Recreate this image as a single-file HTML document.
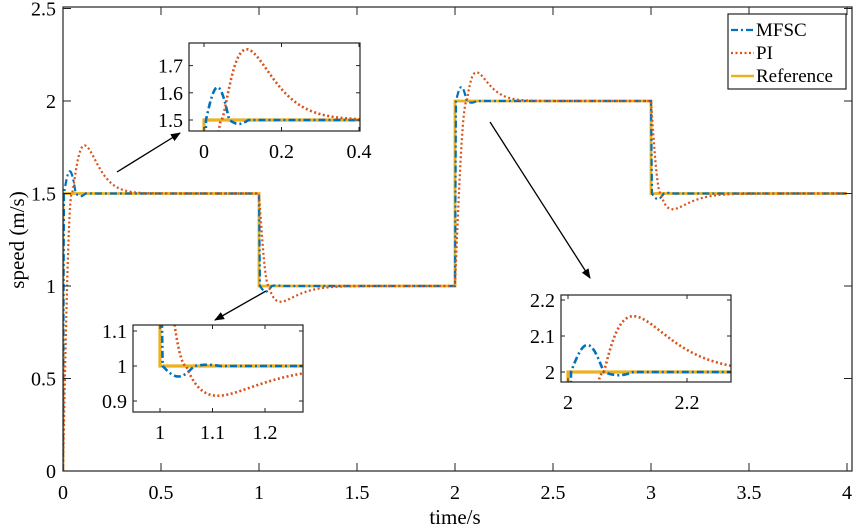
<!DOCTYPE html>
<html><head><meta charset="utf-8"><style>
html,body{margin:0;padding:0;background:#fff;width:858px;height:531px;overflow:hidden;}
svg{display:block;font-family:"Liberation Serif",serif;}
</style></head><body>
<svg id="s" width="858" height="531" xmlns="http://www.w3.org/2000/svg"></svg>
<script>
const S=document.getElementById('s');
let h='';
const B='#0072BD',O='#D95319',Y='#EDB120';
const steps=[
 {t0:0,y0:0,y1:1.5,A:0.12,T:0.06,tr:0.045,tp:0.065,P:0.26,dec:1.6},
 {t0:1,y0:1.5,y1:1,A:-0.03,T:0.06,tr:0.05,tp:0.06,P:-0.085,dec:1.0},
 {t0:2,y0:1,y1:2,A:0.075,T:0.055,tr:0.06,tp:0.05,P:0.155,dec:1.2},
 {t0:3,y0:2,y1:1.5,A:-0.03,T:0.06,tr:0.05,tp:0.06,P:-0.085,dec:1.0}];
function st(t){let s=steps[0];for(const q of steps) if(t>=q.t0) s=q;return s;}
function mf(t){const q=st(t),s=t-q.t0,d=q.y1-q.y0,ta=0.005;
 if(s<ta) return q.y0+d*s/ta;
 const u=s-ta; if(u<q.T) return q.y1+q.A*Math.sin(Math.PI*u/q.T);
 const v=u-q.T; if(v<0.05) return q.y1-0.12*q.A*Math.sin(Math.PI*v/0.05);
 return q.y1;}
function pi(t){const q=st(t),s=t-q.t0,d=q.y1-q.y0;
 if(s<q.tr) return q.y0+d*Math.sin(Math.PI/2*s/q.tr);
 const u=(s-q.tr)/q.tp; return q.y1+q.P*Math.pow(u*Math.exp(1-u),q.dec);}
function rf(t){return st(t).y1;}
function path(f,X,Yf,a,b,n){let p='';for(let i=0;i<=n;i++){const t=a+(b-a)*i/n;p+=(i?'L':'M')+X(t).toFixed(2)+','+Yf(f(t)).toFixed(2);}return p;}
function refPath(X,Yf,a,b){let p='';let pts=[];pts.push([a,rf(a)]);for(const q of steps){if(q.t0>a&&q.t0<b){pts.push([q.t0,q.y0]);pts.push([q.t0,q.y1]);}}pts.push([b,rf(b)]);
 if(a===0){pts[0]=[0,0];pts.splice(1,0,[0,1.5]);}
 pts.forEach((pp,i)=>{p+=(i?'L':'M')+X(pp[0]).toFixed(2)+','+Yf(pp[1]).toFixed(2);});return p;}
function series(X,Yf,a,b,n,w,clipId){
 const c=clipId?` clip-path="url(#${clipId})"`:'';
 let r='';
 r+=`<path d="${refPath(X,Yf,a,b)}" fill="none" stroke="${Y}" stroke-width="${w+0.6}"${c}/>`;
 r+=`<path d="${path(mf,X,Yf,a,b,n)}" fill="none" stroke="${B}" stroke-width="${w}" stroke-dasharray="7,3,2,3"${c}/>`;
 r+=`<path d="${path(pi,X,Yf,a,b,n)}" fill="none" stroke="${O}" stroke-width="${w}" stroke-dasharray="2,2.5"${c}/>`;
 return r;}
const X=t=>63+196*t, Yv=v=>471-185*v;
h+=`<defs><clipPath id="cm"><rect x="63" y="7" width="789" height="464"/></clipPath>
<clipPath id="c1"><rect x="189" y="43" width="171" height="88"/></clipPath>
<clipPath id="c2"><rect x="133" y="325" width="170" height="87"/></clipPath>
<clipPath id="c3"><rect x="561" y="295" width="170" height="87"/></clipPath>
<marker id="ar" markerWidth="10" markerHeight="8" refX="9" refY="4" orient="auto" markerUnits="userSpaceOnUse"><path d="M0,0L10,4L0,8z" fill="#000"/></marker></defs>`;
h+=series(X,Yv,0,4,2400,2.2,'cm');
h+=`<rect x="63" y="7" width="789" height="464" fill="none" stroke="#222" stroke-width="1.2"/>`;
for(let i=0;i<=8;i++){const x=X(i*0.5);h+=`<line x1="${x}" y1="471" x2="${x}" y2="463" stroke="#222"/><line x1="${x}" y1="7" x2="${x}" y2="15" stroke="#222"/>`;
 h+=`<text x="${x}" y="499" font-size="20" text-anchor="middle">${i*0.5}</text>`;}
for(let i=0;i<=5;i++){const y=Yv(i*0.5);h+=`<line x1="63" y1="${y}" x2="71" y2="${y}" stroke="#222"/><line x1="852" y1="${y}" x2="844" y2="${y}" stroke="#222"/>`;
 h+=`<text x="56" y="${y+7}" font-size="20" text-anchor="end">${i*0.5}</text>`;}
h+=`<text x="455" y="524" font-size="21" text-anchor="middle">time/s</text>`;
h+=`<text transform="translate(24,240) rotate(-90)" font-size="21" text-anchor="middle">speed (m/s)</text>`;
h+=`<line x1="117" y1="172" x2="180" y2="133" stroke="#000" stroke-width="1.3" marker-end="url(#ar)"/>`;
h+=`<line x1="266" y1="291" x2="215" y2="320" stroke="#000" stroke-width="1.3" marker-end="url(#ar)"/>`;
h+=`<line x1="490" y1="122" x2="590" y2="278" stroke="#000" stroke-width="1.3" marker-end="url(#ar)"/>`;
function inset(bx,by,bw,bh,clip,a,b,X,Yf,xt,xl,yt,yl){
 let r=`<rect x="${bx}" y="${by}" width="${bw}" height="${bh}" fill="#fff"/>`;
 r+=series(X,Yf,a,b,800,2.6,clip);
 r+=`<rect x="${bx}" y="${by}" width="${bw}" height="${bh}" fill="none" stroke="#222" stroke-width="1.2"/>`;
 xt.forEach((t,i)=>{const x=X(t);r+=`<line x1="${x}" y1="${by+bh}" x2="${x}" y2="${by+bh-4}" stroke="#222"/><line x1="${x}" y1="${by}" x2="${x}" y2="${by+4}" stroke="#222"/><text x="${x}" y="${by+bh+27}" font-size="20" text-anchor="middle">${xl[i]}</text>`;});
 yt.forEach((v,i)=>{const y=Yf(v);r+=`<line x1="${bx}" y1="${y}" x2="${bx+4}" y2="${y}" stroke="#222"/><line x1="${bx+bw}" y1="${y}" x2="${bx+bw-4}" y2="${y}" stroke="#222"/><text x="${bx-6}" y="${y+7}" font-size="20" text-anchor="end">${yl[i]}</text>`;});
 return r;}
h+=inset(189,43,171,88,'c1',0,0.45,t=>204+387.5*t,v=>120-272*(v-1.5),[0,0.2,0.4],['0','0.2','0.4'],[1.5,1.6,1.7],['1.5','1.6','1.7']);
h+=inset(133,325,170,87,'c2',0.99,1.3,t=>160+525*(t-1),v=>366-350*(v-1),[1,1.1,1.2],['1','1.1','1.2'],[0.9,1,1.1],['0.9','1','1.1']);
h+=inset(561,295,170,87,'c3',1.99,2.3,t=>568+595*(t-2),v=>372-360*(v-2),[2,2.2],['2','2.2'],[2,2.1,2.2],['2','2.1','2.2']);
h+=`<rect x="728" y="14" width="118" height="75" fill="#fff" stroke="#222" stroke-width="1.2"/>`;
h+=`<line x1="731" y1="30" x2="754" y2="30" stroke="${B}" stroke-width="2.2" stroke-dasharray="7,3,2,3"/><text x="756" y="36" font-size="19">MFSC</text>`;
h+=`<line x1="731" y1="53" x2="754" y2="53" stroke="${O}" stroke-width="2.2" stroke-dasharray="2,2.5"/><text x="756" y="59" font-size="19">PI</text>`;
h+=`<line x1="731" y1="76" x2="754" y2="76" stroke="${Y}" stroke-width="2.6"/><text x="756" y="82" font-size="19">Reference</text>`;
S.innerHTML=h;
</script>
</body></html>
